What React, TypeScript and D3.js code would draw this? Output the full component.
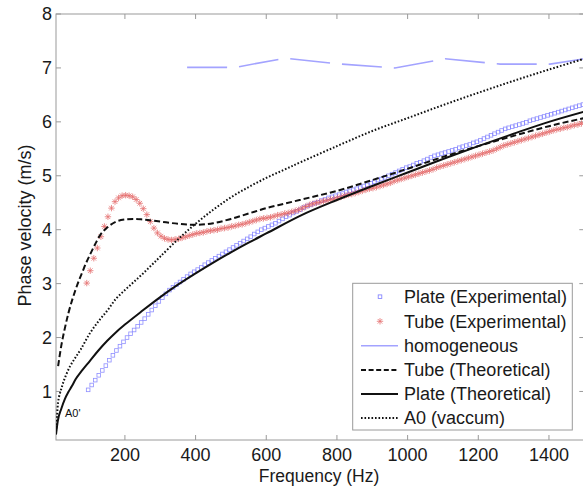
import React from "react";
import * as d3 from "d3";

// ---------- data ----------
const plateTheoFreq = [5, 10, 20, 30, 40, 50, 60, 80, 100, 125, 150, 175, 200, 250, 300, 350, 400, 450, 500, 550, 600, 700, 800, 900, 1000, 1100, 1200, 1300, 1400, 1500];
const plateTheoVel = [0.2, 0.45, 0.68, 0.86, 0.99, 1.1, 1.22, 1.4, 1.56, 1.76, 1.94, 2.1, 2.24, 2.5, 2.75, 2.98, 3.19, 3.39, 3.58, 3.76, 3.93, 4.27, 4.55, 4.81, 5.06, 5.31, 5.55, 5.78, 6.0, 6.19];

const tubeTheoFreq = [11, 20, 30, 40, 50, 60, 70, 80, 90, 100, 115, 130, 150, 175, 200, 225, 250, 300, 350, 400, 450, 500, 550, 600, 650, 700, 800, 900, 1000, 1100, 1200, 1300, 1400, 1500];
const tubeTheoVel = [1.47, 1.85, 2.17, 2.45, 2.68, 2.88, 3.06, 3.22, 3.38, 3.52, 3.72, 3.9, 4.04, 4.15, 4.19, 4.2, 4.19, 4.15, 4.11, 4.09, 4.12, 4.2, 4.3, 4.4, 4.48, 4.56, 4.72, 4.92, 5.13, 5.35, 5.55, 5.74, 5.92, 6.07];

const a0Freq = [5, 8, 12, 20, 30, 45, 60, 75, 100, 125, 150, 175, 200, 225, 250, 275, 300, 350, 400, 450, 500, 550, 600, 650, 700, 800, 900, 1000, 1100, 1200, 1300, 1400, 1500];
const a0Vel = [0.25, 0.55, 0.85, 1.05, 1.25, 1.47, 1.63, 1.78, 2.07, 2.3, 2.5, 2.72, 2.88, 3.03, 3.18, 3.34, 3.5, 3.82, 4.11, 4.37, 4.6, 4.79, 4.96, 5.11, 5.26, 5.55, 5.83, 6.07, 6.31, 6.54, 6.76, 6.97, 7.17];

const homFreq = [376, 512, 653, 795, 964, 1106, 1262, 1403, 1500];
const homVel = [7.01, 7.01, 7.18, 7.08, 7.0, 7.17, 7.07, 7.07, 7.17];

// Plate (Experimental): every 10 Hz starting at 96 Hz
const plateExpStart = 96;
const plateExpStep = 10;
const plateExpVel = [
  1.03, 1.12, 1.21, 1.3, 1.39, 1.48, 1.58, 1.67, 1.76, 1.84, 1.92,
  2.0, 2.07, 2.14, 2.21, 2.28, 2.35, 2.43, 2.51, 2.59, 2.67,
  2.74, 2.81, 2.88, 2.93, 2.98, 3.03, 3.08, 3.13, 3.18, 3.22,
  3.26, 3.3, 3.35, 3.39, 3.43, 3.47, 3.51, 3.55, 3.59, 3.63,
  3.67, 3.71, 3.75, 3.79, 3.83, 3.87, 3.92, 3.96, 4.0, 4.03,
  4.06, 4.09, 4.12, 4.16, 4.2, 4.24, 4.27, 4.31, 4.34, 4.37,
  4.41, 4.44, 4.46, 4.49, 4.51, 4.54, 4.56, 4.59, 4.61, 4.63,
  4.65, 4.67, 4.7, 4.72, 4.74, 4.76, 4.78, 4.81, 4.83, 4.86,
  4.89, 4.92, 4.94, 4.97, 5.0, 5.03, 5.06, 5.09, 5.12, 5.15,
  5.17, 5.2, 5.23, 5.25, 5.28, 5.31, 5.34, 5.37, 5.39, 5.41,
  5.43, 5.45, 5.47, 5.49, 5.52, 5.54, 5.56, 5.58, 5.61, 5.63,
  5.66, 5.69, 5.72, 5.75, 5.78, 5.81, 5.84, 5.87, 5.89, 5.91,
  5.93, 5.95, 5.97, 5.99, 6.02, 6.04, 6.06, 6.08, 6.1, 6.12,
  6.14, 6.16, 6.18, 6.2, 6.22, 6.24, 6.26, 6.28, 6.3, 6.32,
];

// Tube (Experimental): every 10 Hz starting at 92 Hz
const tubeExpStart = 92;
const tubeExpStep = 10;
const tubeExpVel = [
  3.01, 3.24, 3.47, 3.66, 3.87, 4.06, 4.24, 4.4, 4.52, 4.59,
  4.63, 4.64, 4.63, 4.61, 4.56, 4.49, 4.39, 4.28, 4.15, 4.03,
  3.94, 3.88, 3.84, 3.82, 3.81, 3.82, 3.83, 3.85, 3.87, 3.89,
  3.91, 3.93, 3.94, 3.95, 3.97, 3.98, 3.99, 4.0, 4.02, 4.03,
  4.04, 4.06, 4.07, 4.09, 4.1, 4.12, 4.14, 4.16, 4.18, 4.2,
  4.21, 4.22, 4.23, 4.25, 4.27, 4.28, 4.3, 4.31, 4.33, 4.35,
  4.37, 4.4, 4.43, 4.46, 4.48, 4.5, 4.51, 4.53, 4.54, 4.56,
  4.57, 4.59, 4.61, 4.63, 4.65, 4.66, 4.68, 4.7, 4.72, 4.74,
  4.76, 4.77, 4.79, 4.81, 4.83, 4.85, 4.87, 4.9, 4.92, 4.94,
  4.96, 4.98, 5.0, 5.02, 5.04, 5.06, 5.08, 5.1, 5.12, 5.15,
  5.17, 5.19, 5.21, 5.23, 5.25, 5.27, 5.29, 5.31, 5.33, 5.35,
  5.37, 5.39, 5.41, 5.43, 5.45, 5.47, 5.5, 5.53, 5.56, 5.58,
  5.6, 5.62, 5.64, 5.66, 5.68, 5.7, 5.72, 5.74, 5.76, 5.78,
  5.8, 5.82, 5.84, 5.86, 5.87, 5.89, 5.9, 5.92, 5.94, 5.95, 5.97,
];

const xTicks = [200, 400, 600, 800, 1000, 1200, 1400];
const yTicks = [1, 2, 3, 4, 5, 6, 7, 8];

const legendLabels = [
  "Plate (Experimental)",
  "Tube (Experimental)",
  "homogeneous",
  "Tube (Theoretical)",
  "Plate (Theoretical)",
  "A0 (vaccum)",
];

// ---------- layout ----------
const W = 583;
const H = 488;
const FONT = "'Liberation Sans', Arial, Helvetica, sans-serif";
const BLUE = "#7b7bff";
const RED = "#e25a5a";
const HOM = "#a3a3ff";
const AXIS = "#9a9a9a";

const x = d3.scaleLinear().domain([5, 1500]).range([56, 584.3]);
const y = d3.scaleLinear().domain([0.1, 8]).range([440, 14]);

const lineGen = (xs: number[], ys: number[], curve: any = d3.curveMonotoneX) =>
  d3
    .line<number>()
    .x((_, i) => x(xs[i]))
    .y((v) => y(v))
    .curve(curve)(ys) || "";

const Star = ({ cx, cy, r, color }: { cx: number; cy: number; r: number; color: string }) => {
  const d = r * 0.72;
  return (
    <g stroke={color} strokeWidth={0.8} opacity={0.85}>
      <line x1={cx - r} y1={cy} x2={cx + r} y2={cy} />
      <line x1={cx} y1={cy - r} x2={cx} y2={cy + r} />
      <line x1={cx - d} y1={cy - d} x2={cx + d} y2={cy + d} />
      <line x1={cx - d} y1={cy + d} x2={cx + d} y2={cy - d} />
    </g>
  );
};

export default function App() {
  const left = 56;
  const right = 584.3;
  const top = 14;
  const bottom = 440;

  const legX = 352.7;
  const legY = 283.3;
  const legW = 219.6;
  const legH = 146.7;
  const rowY = [296.7, 321.3, 345.8, 370, 394, 418];

  return (
    <svg
      width={W}
      height={H}
      style={{ position: "absolute", left: 0, top: 0, background: "#fff" }}
      fontFamily={FONT}
    >
      <rect x={0} y={0} width={W} height={H} fill="#fff" />
      <defs>
        <clipPath id="plotclip">
          <rect x={left} y={top} width={right - left} height={bottom - top} />
        </clipPath>
      </defs>

      {/* axes box */}
      <rect x={left} y={top} width={right - left} height={bottom - top} fill="none" stroke={AXIS} strokeWidth={1} />
      {xTicks.map((t) => (
        <g key={"xt" + t}>
          <line x1={x(t)} x2={x(t)} y1={bottom} y2={bottom - 5} stroke={AXIS} />
          <line x1={x(t)} x2={x(t)} y1={top} y2={top + 5} stroke={AXIS} />
          <text x={x(t)} y={461} fontSize={18} textAnchor="middle" fill="#1a1a1a">
            {t}
          </text>
        </g>
      ))}
      {yTicks.map((t) => (
        <g key={"yt" + t}>
          <line x1={left} x2={left + 5} y1={y(t)} y2={y(t)} stroke={AXIS} />
          <line x1={right} x2={right - 5} y1={y(t)} y2={y(t)} stroke={AXIS} />
          <text x={52} y={y(t)} dy="0.36em" fontSize={18} textAnchor="end" fill="#1a1a1a">
            {t}
          </text>
        </g>
      ))}

      <text x={319} y={482} fontSize={17.5} textAnchor="middle" fill="#1a1a1a">
        Frequency (Hz)
      </text>
      <text transform="translate(31,225.5) rotate(-90)" fontSize={18} textAnchor="middle" fill="#1a1a1a">
        Phase velocity (m/s)
      </text>

      <g clipPath="url(#plotclip)">
        {/* Plate experimental */}
        {plateExpVel.map((v, i) => {
          const f = plateExpStart + i * plateExpStep;
          return (
            <rect
              key={"pe" + i}
              x={x(f) - 1.8}
              y={y(v) - 1.8}
              width={3.6}
              height={3.6}
              fill="none"
              stroke={BLUE}
              strokeWidth={0.8}
              opacity={0.85}
            />
          );
        })}
        {/* Tube experimental */}
        {tubeExpVel.map((v, i) => {
          const f = tubeExpStart + i * tubeExpStep;
          return <Star key={"te" + i} cx={x(f)} cy={y(v)} r={3.2} color={RED} />;
        })}
        {/* homogeneous */}
        <path d={lineGen(homFreq, homVel, d3.curveLinear)} fill="none" stroke={HOM} strokeWidth={1.6} strokeDasharray="40,12" />
        {/* Tube theoretical */}
        <path d={lineGen(tubeTheoFreq, tubeTheoVel)} fill="none" stroke="#111" strokeWidth={2} strokeDasharray="6,3" />
        {/* Plate theoretical */}
        <path d={lineGen(plateTheoFreq, plateTheoVel)} fill="none" stroke="#111" strokeWidth={2} />
        {/* A0 vacuum */}
        <path d={lineGen(a0Freq, a0Vel, d3.curveCatmullRom)} fill="none" stroke="#111" strokeWidth={2} strokeDasharray="1.6,1.9" />
      </g>

      <text x={65} y={417} fontSize={11} fill="#111">
        A0'
      </text>

      {/* legend */}
      <rect x={legX} y={legY} width={legW} height={legH} fill="#fff" stroke={AXIS} strokeWidth={1} />
      {legendLabels.map((lab, i) => (
        <text key={"lg" + i} x={404} y={rowY[i]} dy="0.36em" fontSize={18} fill="#1a1a1a">
          {lab}
        </text>
      ))}
      <rect x={380 - 1.8} y={rowY[0] - 1.8} width={3.6} height={3.6} fill="none" stroke={BLUE} strokeWidth={0.8} />
      <Star cx={380} cy={rowY[1]} r={3.2} color={RED} />
      <line x1={361} x2={398} y1={rowY[2]} y2={rowY[2]} stroke={HOM} strokeWidth={1.6} />
      <line x1={361} x2={398} y1={rowY[3]} y2={rowY[3]} stroke="#111" strokeWidth={2} strokeDasharray="5,2.6" />
      <line x1={361} x2={398} y1={rowY[4]} y2={rowY[4]} stroke="#111" strokeWidth={2} />
      <line x1={361} x2={398} y1={rowY[5]} y2={rowY[5]} stroke="#111" strokeWidth={1.8} strokeDasharray="1.6,1.9" />
    </svg>
  );
}
